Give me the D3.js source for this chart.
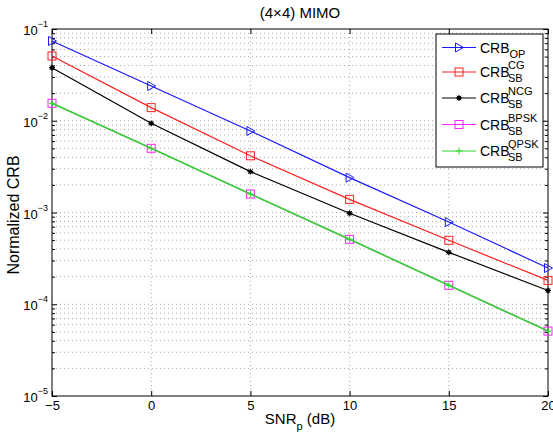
<!DOCTYPE html>
<html><head><meta charset="utf-8">
<script src="https://cdn.jsdelivr.net/npm/d3@7"></script>
<style>body{margin:0;background:#fff;} text{font-family:"Liberation Sans",Arial,sans-serif;}</style>
</head><body>
<svg id="c" width="553" height="436"></svg>
<script>
const snr = [-5, 0, 5, 10, 15, 20];
const crbOP   = [0.0740, 0.0239, 0.00773, 0.00240, 0.000787, 0.000248];
const crbCG   = [0.0508, 0.0139, 0.00415, 0.00139, 0.000498, 0.000182];
const crbNCG  = [0.0379, 0.00937, 0.00279, 0.00098, 0.000368, 0.000141];
const crbBPSK = [0.0155, 0.00501, 0.00159, 0.00051, 0.000161, 0.000051];
const crbQPSK = [0.0155, 0.00501, 0.00159, 0.00051, 0.000161, 0.000051];
const xTicks = [-5, 0, 5, 10, 15, 20];
const yExps = [-5, -4, -3, -2, -1];

const series = [
  {name:"OP", sup:"", values:crbOP, color:"#1a1aff", marker:"tri", w:1.2},
  {name:"SB", sup:"CG", values:crbCG, color:"#ff2020", marker:"square", w:1.2},
  {name:"SB", sup:"NCG", values:crbNCG, color:"#000000", marker:"star", w:1.2},
  {name:"SB", sup:"BPSK", values:crbBPSK, color:"#ff20ff", marker:"square", w:1.2},
  {name:"SB", sup:"QPSK", values:crbQPSK, color:"#33d633", marker:"plus", w:1.6}
];

const svg = d3.select("#c");
const L = 52, R = 548, T = 29, B = 396;
const x = d3.scaleLinear().domain([-5, 20]).range([L, R]);
const y = d3.scaleLog().domain([1e-5, 1e-1]).range([B, T]);

// grid
const g = svg.append("g");
const minor = [];
for (let e = -5; e < -1; e++) for (let m = 1; m <= 9; m++) minor.push(m * Math.pow(10, e));
g.selectAll("line.hg").data(minor.filter(v => v > 1.01e-5 && v < 0.099)).enter().append("line")
  .attr("x1", L).attr("x2", R).attr("y1", d => y(d)).attr("y2", d => y(d))
  .attr("stroke", "#aaa").attr("stroke-width", 1).attr("stroke-dasharray", "1,3");
g.selectAll("line.vg").data(xTicks.slice(1, -1)).enter().append("line")
  .attr("x1", d => x(d)).attr("x2", d => x(d)).attr("y1", T).attr("y2", B)
  .attr("stroke", "#aaa").attr("stroke-width", 1).attr("stroke-dasharray", "1,3");

// axes with inner ticks
const tk = 5, tkm = 3;
const ax = svg.append("g");
ax.append("g").attr("transform", `translate(0,${B})`)
  .call(d3.axisBottom(x).tickValues(xTicks).tickSizeInner(-tk).tickSizeOuter(0).tickFormat(d => d < 0 ? "\u2212" + Math.abs(d) : d))
  .call(s => { s.select(".domain").remove(); s.selectAll("text").attr("y", 14).attr("dy", 0).attr("font-size", 13).attr("font-family", "Liberation Sans, Arial, sans-serif"); });
ax.append("g").attr("transform", `translate(0,${T})`)
  .call(d3.axisTop(x).tickValues(xTicks).tickSizeInner(-tk).tickSizeOuter(0).tickFormat(""))
  .call(s => s.select(".domain").remove());
const majors = yExps.map(e => Math.pow(10, e));
const minors = minor.filter(v => !majors.some(m => Math.abs(m - v) / m < 1e-9));
[[L, d3.axisLeft], [R, d3.axisRight]].forEach(([px, fn]) => {
  ax.append("g").attr("transform", `translate(${px},0)`)
    .call(fn(y).tickValues(majors).tickSizeInner(-tk).tickSizeOuter(0).tickFormat(""))
    .call(s => s.select(".domain").remove());
  ax.append("g").attr("transform", `translate(${px},0)`)
    .call(fn(y).tickValues(minors).tickSizeInner(-tkm).tickSizeOuter(0).tickFormat(""))
    .call(s => s.select(".domain").remove());
});
ax.selectAll("line").attr("stroke", "#000");
svg.append("rect").attr("x", L).attr("y", T).attr("width", R - L).attr("height", B - T)
  .attr("fill", "none").attr("stroke", "#000").attr("stroke-width", 1);

// y labels with superscripts
yExps.forEach(e => {
  const t = svg.append("text").attr("x", L - 4).attr("y", y(Math.pow(10, e)) + 6)
    .attr("text-anchor", "end").attr("font-size", 13);
  t.append("tspan").text("10");
  t.append("tspan").attr("dy", -8).attr("font-size", 9).text("\u2212" + Math.abs(e));
});

// lines & markers
const line = d3.line().x((d, i) => x(snr[i])).y(d => y(d));
const drawMarker = (sel, type, color, cx, cy) => {
  if (type === "tri") sel.append("path").attr("d", `M${cx-3.5},${cy-4.5}L${cx+4.5},${cy}L${cx-3.5},${cy+4.5}Z`).attr("fill", "none").attr("stroke", color).attr("stroke-width", 1);
  else if (type === "square") sel.append("rect").attr("x", cx - 4).attr("y", cy - 4).attr("width", 8).attr("height", 8).attr("fill", "none").attr("stroke", color).attr("stroke-width", 1);
  else if (type === "star") { sel.append("circle").attr("cx", cx).attr("cy", cy).attr("r", 2.2).attr("fill", color);
    sel.append("path").attr("d", `M${cx-3},${cy}H${cx+3}M${cx},${cy-3}V${cy+3}M${cx-2.2},${cy-2.2}L${cx+2.2},${cy+2.2}M${cx-2.2},${cy+2.2}L${cx+2.2},${cy-2.2}`).attr("stroke", color).attr("stroke-width", 1); }
  else if (type === "plus") sel.append("path").attr("d", `M${cx-3.5},${cy}H${cx+3.5}M${cx},${cy-3.5}V${cy+3.5}`).attr("stroke", color).attr("stroke-width", 1);
};
const pl = svg.append("g");
series.forEach(s => {
  pl.append("path").datum(s.values).attr("d", line).attr("fill", "none").attr("stroke", s.color).attr("stroke-width", s.w);
  s.values.forEach((v, i) => drawMarker(pl, s.marker, s.color, x(snr[i]), y(v)));
});

// title & axis labels
svg.append("text").attr("x", 300).attr("y", 18).attr("text-anchor", "middle").attr("font-size", 15).text("(4\u00d74) MIMO");
const xl = svg.append("text").attr("x", 300).attr("y", 424).attr("text-anchor", "middle").attr("font-size", 15);
xl.append("tspan").text("SNR");
xl.append("tspan").attr("dy", 6).attr("font-size", 11).text("p");
xl.append("tspan").attr("dy", -6).text(" (dB)");
svg.append("text").attr("transform", "translate(19,215) rotate(-90)").attr("text-anchor", "middle").attr("font-size", 16).text("Normalized CRB");

// legend
const lg = svg.append("g");
lg.append("rect").attr("x", 436).attr("y", 34).attr("width", 107).attr("height", 133).attr("fill", "#fff").attr("stroke", "#000").attr("stroke-width", 1);
const ly = [47.5, 72, 98, 124.5, 151];
series.forEach((s, i) => {
  const yy = ly[i];
  lg.append("line").attr("x1", 442).attr("x2", 476).attr("y1", yy).attr("y2", yy).attr("stroke", s.color).attr("stroke-width", 1.2);
  drawMarker(lg, s.marker, s.color, 459, yy);
  const t = lg.append("text").attr("x", 480).attr("y", yy + 5).attr("font-size", 14);
  t.append("tspan").text("CRB");
  if (s.sup) {
    t.append("tspan").attr("x", 508).attr("dy", -8).attr("font-size", 11).text(s.sup);
    t.append("tspan").attr("x", 508).attr("dy", 13).attr("font-size", 11).text(s.name);
  } else {
    t.append("tspan").attr("dy", 5).attr("font-size", 11).text(s.name);
  }
});
</script>
</body></html>
